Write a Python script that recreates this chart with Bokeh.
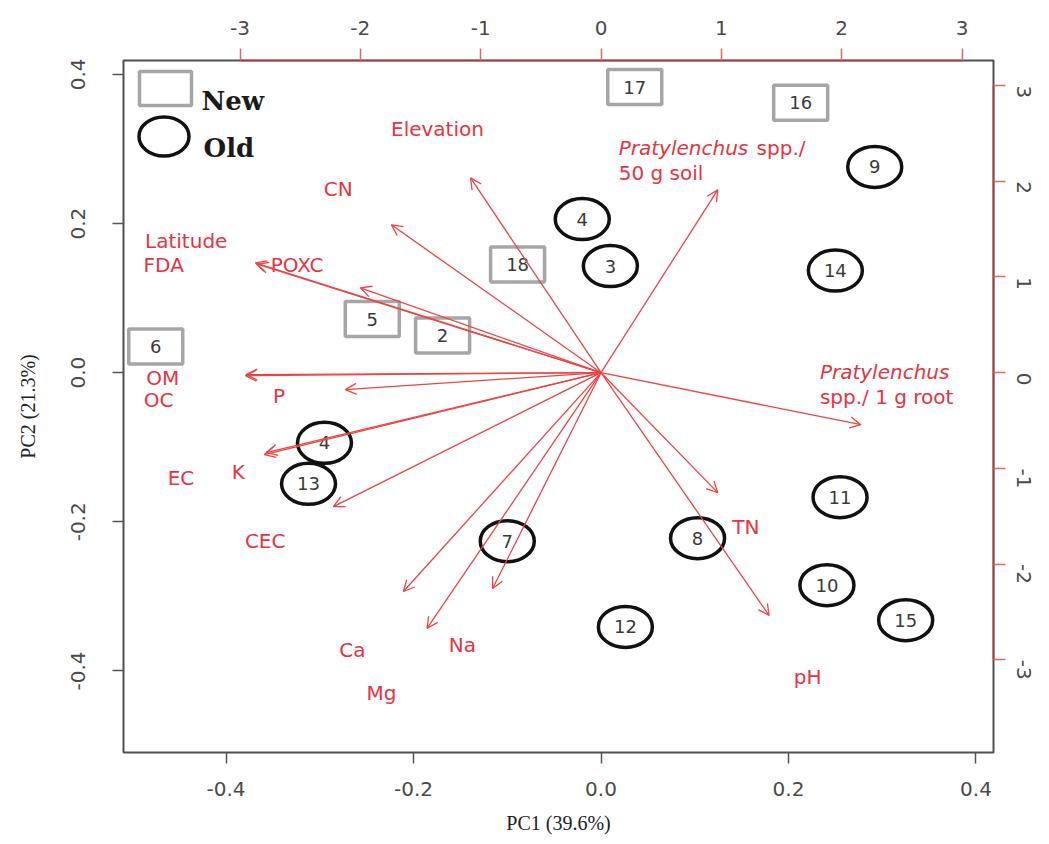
import math
from bokeh.plotting import figure
from bokeh.models import (Range1d, LinearAxis, FixedTicker, NumeralTickFormatter,
                          ColumnDataSource, Arrow, OpenHead)
from bokeh.core.properties import value
from bokeh.embed import file_html
from bokeh.resources import INLINE

# ---------------- data ----------------
# site scores (PC1, PC2) on the primary (bottom/left) scale
new_ids = ["17", "16", "18", "5", "2", "6"]
new_pc1 = [0.036, 0.213, -0.089, -0.244, -0.169, -0.475]
new_pc2 = [0.383, 0.362, 0.145, 0.072, 0.050, 0.035]

old_ids = ["4", "3", "9", "14", "4", "13", "7", "8", "11", "10", "15", "12"]
old_pc1 = [-0.020, 0.010, 0.292, 0.250, -0.295, -0.312, -0.100, 0.103, 0.255, 0.241, 0.325, 0.026]
old_pc2 = [0.206, 0.143, 0.276, 0.137, -0.094, -0.149, -0.226, -0.222, -0.167, -0.285, -0.332, -0.341]

# variable loadings (arrow tips) on the secondary (top/right) scale
variables = ["Elevation", "CN", "Latitude", "FDA", "POXC", "OM", "OC", "P", "EC", "K",
             "CEC", "Ca", "Mg", "Na", "TN", "pH",
             "Pratylenchus spp./ 50 g soil", "Pratylenchus spp./ 1 g root"]
load_pc1 = [-1.084, -1.742, -2.873, -2.857, -2.000, -2.956, -2.948, -2.124, -2.798, -2.782,
            -2.224, -1.642, -1.446, -0.901, 0.970, 1.397, 0.970, 2.160]
load_pc2 = [2.035, 1.545, 1.148, 1.133, 0.887, -0.031, -0.021, -0.177, -0.856, -0.835,
            -1.399, -2.286, -2.672, -2.255, -1.253, -2.537, 1.910, -0.543]

# label placement of the plain variable names (secondary scale)
lab_names = ["Elevation", "CN", "Latitude", "FDA", "POXC", "OM", "OC", "P", "EC", "K",
             "CEC", "Ca", "Na", "Mg", "TN", "pH"]
lab_x = [-1.359, -2.183, -3.447, -3.634, -2.525, -3.643, -3.676, -2.675, -3.491, -3.015,
         -2.791, -2.067, -1.152, -1.825, 1.203, 1.717]
lab_y = [2.547, 1.921, 1.378, 1.127, 1.127, -0.052, -0.282, -0.240, -1.096, -1.033,
         -1.754, -2.902, -2.850, -3.351, -1.608, -3.184]

pc_x_ticks = [-0.4, -0.2, 0.0, 0.2, 0.4]
pc_y_ticks = [-0.4, -0.2, 0.0, 0.2, 0.4]
load_ticks = [-3, -2, -1, 0, 1, 2, 3]

# ---------------- layout ----------------
LIM = (-0.5094, 0.4187)
RATIO = 7.79
SLIM = (LIM[0] * RATIO, LIM[1] * RATIO)
FW, FH = 870, 692

p = figure(frame_width=FW, frame_height=FH, output_backend="svg", toolbar_location=None,
           x_range=Range1d(*LIM), y_range=Range1d(*LIM),
           min_border_left=123, min_border_right=55, min_border_top=60, min_border_bottom=91,
           background_fill_color="white", border_fill_color="white")
p.outline_line_color = "#505050"
p.outline_line_width = 2
p.xgrid.visible = False
p.ygrid.visible = False
p.extra_x_ranges = {"sx": Range1d(*SLIM)}
p.extra_y_ranges = {"sy": Range1d(*SLIM)}

bx = p.below[0]
ly = p.left[0]
for ax, ticks in ((bx, pc_x_ticks), (ly, pc_y_ticks)):
    ax.ticker = FixedTicker(ticks=ticks)
    ax.formatter = NumeralTickFormatter(format="0.0")
    ax.axis_line_color = None
    ax.major_tick_line_color = "#555555"
    ax.major_tick_line_width = 1.5
    ax.major_tick_out = 11
    ax.major_tick_in = 0
    ax.minor_tick_line_color = None
    ax.major_label_text_font = "DejaVu Sans"
    ax.major_label_text_font_size = "20px"
    ax.major_label_text_color = "#4a4a4a"
    ax.axis_label_text_font = "Liberation Serif"
    ax.axis_label_text_font_size = "20px"
    ax.axis_label_text_font_style = "normal"
    ax.axis_label_text_color = "#222222"
bx.axis_label = "PC1 (39.6%)"
ly.axis_label = "PC2 (21.3%)"
bx.major_label_standoff = 18
bx.axis_label_standoff = 13
ly.major_label_orientation = "parallel"
ly.major_label_standoff = 27
ly.axis_label_standoff = 30

top = LinearAxis(x_range_name="sx", ticker=FixedTicker(ticks=load_ticks))
right = LinearAxis(y_range_name="sy", ticker=FixedTicker(ticks=load_ticks))
for ax in (top, right):
    ax.bounds = (-3, 3)
    ax.formatter = NumeralTickFormatter(format="0")
    ax.axis_line_color = "#a83a3a"
    ax.axis_line_width = 1.5
    ax.major_tick_line_color = "#d86a6a"
    ax.major_tick_line_width = 1.5
    ax.major_tick_out = 12
    ax.major_tick_in = 0
    ax.minor_tick_line_color = None
    ax.major_label_text_font = "DejaVu Sans"
    ax.major_label_text_font_size = "20px"
    ax.major_label_text_color = "#4a4a4a"
top.major_label_standoff = 14
right.major_label_orientation = -math.pi / 2
right.major_label_standoff = 18
p.add_layout(top, "above")
p.add_layout(right, "right")

# ---------------- arrows ----------------
RED_LINE = "#ee4444"
RED_TEXT = "#e8343f"
asrc = ColumnDataSource(dict(x0=[0.0] * len(load_pc1), y0=[0.0] * len(load_pc2),
                             x1=load_pc1, y1=load_pc2))
p.add_layout(Arrow(source=asrc, x_start="x0", y_start="y0", x_end="x1", y_end="y1",
                   x_range_name="sx", y_range_name="sy",
                   line_color=RED_LINE, line_width=1.3,
                   end=OpenHead(size=11, line_color=RED_LINE, line_width=1.3)))

p.text(x=lab_x, y=lab_y, text=lab_names, x_range_name="sx", y_range_name="sy",
       text_align="center", text_baseline="middle", text_font=value("DejaVu Sans"),
       text_font_size="20px", text_color=RED_TEXT)

# Pratylenchus labels (italic genus name)
p.text(x=[0.147, 1.819], y=[2.349, 0.010], text=["Pratylenchus", "Pratylenchus"],
       x_range_name="sx", y_range_name="sy", text_align="left", text_baseline="middle",
       text_font=value("DejaVu Sans"), text_font_style="italic",
       text_font_size="20px", text_color=RED_TEXT)
p.text(x=[1.293, 0.147, 1.819], y=[2.349, 2.088, -0.251],
       text=["spp./", "50 g soil", "spp./ 1 g root"],
       x_range_name="sx", y_range_name="sy", text_align="left", text_baseline="middle",
       text_font=value("DejaVu Sans"), text_font_size="20px", text_color=RED_TEXT)

# ---------------- sites ----------------
p.rect(x=new_pc1, y=new_pc2, width=54, height=35, width_units="screen", height_units="screen",
       fill_color=None, line_color="#a6a6a6", line_width=3.5)
p.ellipse(x=old_pc1, y=old_pc2, width=54, height=41, width_units="screen",
          height_units="screen", fill_color=None, line_color="#111111", line_width=3.5)
p.text(x=new_pc1 + old_pc1, y=new_pc2 + old_pc2, text=new_ids + old_ids,
       text_align="center", text_baseline="middle", text_font=value("DejaVu Sans"),
       text_font_size="18px", text_color="#3a3a3a")

# ---------------- legend (drawn in the frame's top-left corner) ----------------
def fx(off):
    return LIM[0] + off / FW * (LIM[1] - LIM[0])


def fy(off):
    return LIM[1] - off / FH * (LIM[1] - LIM[0])


p.rect(x=[fx(42)], y=[fy(28)], width=52, height=34, width_units="screen",
       height_units="screen", fill_color=None, line_color="#a6a6a6", line_width=3.5)
p.ellipse(x=[fx(40.5)], y=[fy(76)], width=50, height=39, width_units="screen",
          height_units="screen", fill_color=None, line_color="#111111", line_width=3.5)
p.text(x=[fx(78), fx(80)], y=[fy(40), fy(87)], text=["New", "Old"],
       text_baseline="alphabetic", text_align="left", text_font=value("DejaVu Serif"),
       text_font_style="bold", text_font_size="26px", text_color="#1a1a1a")

open("out.html", "w").write(file_html(p, INLINE))
